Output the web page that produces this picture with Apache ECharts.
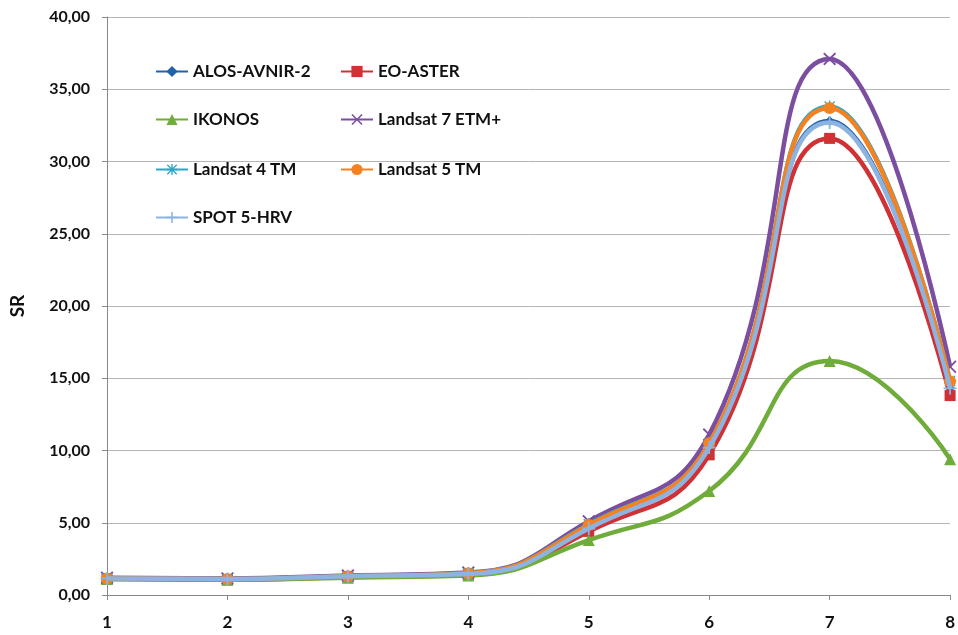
<!DOCTYPE html>
<html><head><meta charset="utf-8">
<script src="https://cdn.jsdelivr.net/npm/echarts@6/dist/echarts.min.js"></script>
<style>html,body{margin:0;padding:0;background:#fff}#c{width:958px;height:635px}</style>
</head><body><div id="c"></div>
<script>
const xValues = [1, 2, 3, 4, 5, 6, 7, 8];
const seriesNames = ['ALOS-AVNIR-2', 'EO-ASTER', 'IKONOS', 'Landsat 7 ETM+', 'Landsat 4 TM', 'Landsat 5 TM', 'SPOT 5-HRV'];
const alos     = [1.15, 1.10, 1.30, 1.45, 4.70, 10.2, 32.8, 14.3];
const eoAster  = [1.10, 1.05, 1.25, 1.40, 4.40, 9.7, 31.6, 13.8];
const ikonos   = [1.10, 1.05, 1.20, 1.35, 3.80, 7.2, 16.2, 9.4];
const landsat7 = [1.20, 1.15, 1.35, 1.55, 5.10, 11.1, 37.1, 15.8];
const landsat4 = [1.15, 1.10, 1.30, 1.50, 4.90, 10.5, 33.8, 14.8];
const landsat5 = [1.15, 1.10, 1.30, 1.50, 4.85, 10.5, 33.7, 14.8];
const spot     = [1.15, 1.10, 1.30, 1.45, 4.60, 10.2, 32.7, 14.3];
const seriesValues = [alos, eoAster, ikonos, landsat7, landsat4, landsat5, spot];

const colors = ['#1f63ad', '#cf3134', '#6fac3a', '#7b4ea0', '#2aa7c6', '#f58220', '#8db3e0'];
const X_PATH = 'path://M1,0 L5,4 L9,0 L10,1 L6,5 L10,9 L9,10 L5,6 L1,10 L0,9 L4,5 L0,1 Z';
const PLUS_PATH = 'path://M4.3,0 H5.7 V4.3 H10 V5.7 H5.7 V10 H4.3 V5.7 H0 V4.3 H4.3 Z';
const STAR_PATH = 'path://M4.4,0 H5.6 V4.4 H10 V5.6 H5.6 V10 H4.4 V5.6 H0 V4.4 H4.4 Z M1.2,0.4 L5,4.2 L8.8,0.4 L9.6,1.2 L5.8,5 L9.6,8.8 L8.8,9.6 L5,5.8 L1.2,9.6 L0.4,8.8 L4.2,5 L0.4,1.2 Z';
const symbols = ['diamond', 'rect', 'triangle', X_PATH, STAR_PATH, 'circle', PLUS_PATH];
const symbolSizes = [10, 11, 12, 13, 12, 12, 13];

const font = 'Lato, "Open Sans", "Liberation Sans", sans-serif';

const series = seriesNames.map((n, i) => ({
  name: n,
  type: 'line',
  smooth: 0.5,
  data: xValues.map((x, j) => [x, seriesValues[i][j]]),
  symbol: symbols[i],
  symbolSize: symbolSizes[i],
  showAllSymbol: true,
  clip: false,
  lineStyle: { width: 4.5, color: colors[i] },
  itemStyle: { color: colors[i] },
  z: 2 + i
}));

const legendPos = [
  [150, 58], [335, 58],
  [150, 106], [335, 106],
  [150, 156], [335, 156],
  [150, 204]
];
const legends = seriesNames.map((n, i) => ({
  data: [n],
  left: legendPos[i][0],
  top: legendPos[i][1],
  itemWidth: 32,
  itemHeight: 14,
  itemGap: 2,
  textStyle: { fontFamily: font, fontWeight: 'bold', fontSize: 17, color: '#111' },
  selectedMode: false
}));

const chart = echarts.init(document.getElementById('c'));
chart.setOption({
  animation: false,
  color: colors,
  legend: legends,
  grid: { left: 104, right: 7, top: 17, bottom: 40 },
  xAxis: {
    type: 'value', min: 1, max: 8, interval: 1,
    axisLine: { show: true, lineStyle: { color: '#888', width: 1 } },
    axisTick: { show: true, length: 5, lineStyle: { color: '#888' } },
    splitLine: { show: false },
    axisLabel: { margin: 19, fontFamily: font, fontWeight: 'bold', fontSize: 17, color: '#111' }
  },
  yAxis: {
    type: 'value', min: 0, max: 40, interval: 5,
    name: 'SR', nameLocation: 'middle', nameGap: 80, nameRotate: 90,
    nameTextStyle: { fontFamily: font, fontWeight: 'bold', fontSize: 19, color: '#111' },
    axisLine: { show: true, lineStyle: { color: '#888', width: 1 } },
    axisTick: { show: true, length: 5, lineStyle: { color: '#888' } },
    splitLine: { show: true, lineStyle: { color: '#b5b5b5', width: 1 } },
    axisLabel: {
      margin: 17, fontFamily: font, fontWeight: 'bold', fontSize: 16, color: '#111',
      formatter: v => v.toFixed(2).replace('.', ',')
    }
  },
  series: series
});
</script></body></html>
